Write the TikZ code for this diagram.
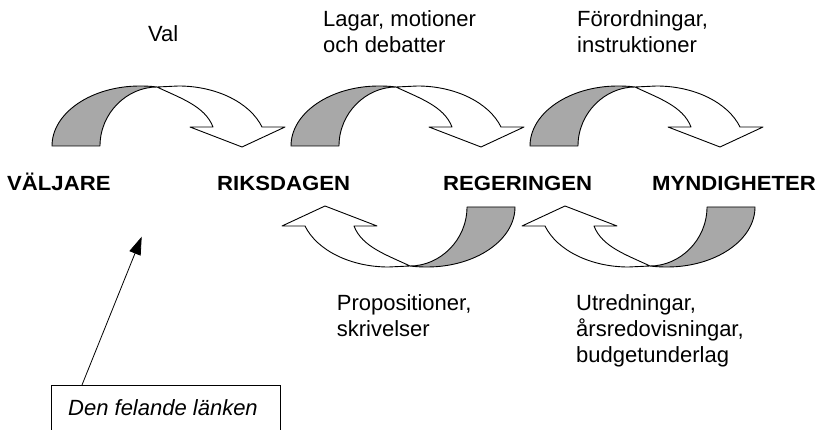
\documentclass[tikz,border=0pt]{standalone}
\usepackage{fontspec}
\setmainfont{Liberation Sans}
\usetikzlibrary{arrows.meta}
\newcommand\mylines[1]{\begin{tabular}[t]{@{}l@{}}#1\end{tabular}}
\begin{document}
\begin{tikzpicture}[x=1pt,y=-1pt,
  outl/.style={draw=black,line width=0.9pt,line join=round},
  back/.style={outl,fill=black!34},
  front/.style={outl,fill=white},
  lab/.style={anchor=base west,inner sep=0pt,font=\bfseries\fontsize{20.5}{24}\selectfont},
  txt/.style={anchor=base west,inner sep=0pt,font=\fontsize{22}{26}\selectfont},
  note/.style={anchor=base west,inner sep=0pt,font=\itshape\fontsize{22}{26}\selectfont}]
\useasboundingbox (0,0) rectangle (822,430);
% one curved arrow, drawn in local coordinates
\newcommand\curvedarrow{%
  \path[back] (52,146) .. controls (52,112.9) and (91.4,86) .. (140,86)
     .. controls (146,86) and (152,86.3) .. (157,87)
     .. controls (127,87) and (100,113) .. (100,146) -- cycle;
  \path[front] (157,87) -- (178.5,86)
     .. controls (216.4,86) and (250,102.6) .. (262,127)
     -- (285,127) -- (242,147) -- (190,127) -- (213,127)
     .. controls (205,106) and (180,98) .. (157,87) -- cycle;}
\foreach \dx in {0,239,478}{
  \begin{scope}[shift={(\dx,0)}]\curvedarrow\end{scope}}
\foreach \dx in {0,240}{
  \begin{scope}[shift={(\dx,0)},rotate around={180:(283.5,176.5)}]\curvedarrow\end{scope}}
% labels
\node[lab] (valjare) at (7,191) {\scalebox{1.08}[1]{VÄLJARE}};
\node[lab] (riksdagen) at (217,191) {\scalebox{1.08}[1]{RIKSDAGEN}};
\node[lab] (regeringen) at (443,191) {\scalebox{1.08}[1]{REGERINGEN}};
\node[lab] (myndigheter) at (652,191) {\scalebox{1.08}[1]{MYNDIGHETER}};
% texts
\node[txt] (val) at (148,42) {Val};
\node[txt] (lagar) at (323,26.7) {\mylines{Lagar, motioner\\och debatter}};
\node[txt] (forord) at (577,26.7) {\mylines{Förordningar,\\instruktioner}};
\node[txt] (prop) at (336.7,310.7) {\mylines{Propositioner,\\skrivelser}};
\node[txt] (utred) at (576,310.7) {\mylines{Utredningar,\\årsredovisningar,\\budgetunderlag}};
% missing link box
\node[note] (lank) at (68,415) {Den felande länken};
\draw[line width=0.8pt] (51.7,431) |- (280,385.7) -- (280,431);
\coordinate (tail) at (81.7,385.7);
\coordinate (tip) at (141.7,236.7);
\draw[line width=0.8pt,-{Triangle[length=18pt,width=12pt]}] (tail) -- (tip);
\end{tikzpicture}
\end{document}
